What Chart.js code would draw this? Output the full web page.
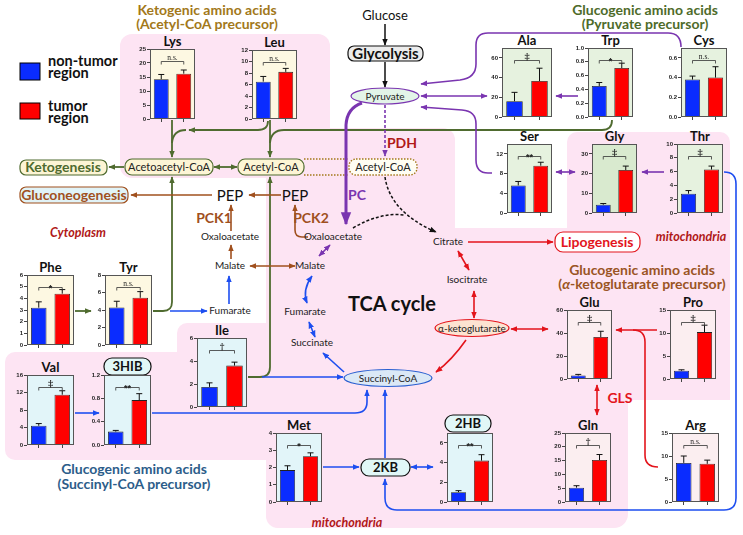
<!DOCTYPE html>
<html>
<head>
<meta charset="utf-8">
<script src="https://cdn.jsdelivr.net/npm/chart.js@4.4.1/dist/chart.umd.min.js"></script>
<style>
  html, body { margin: 0; padding: 0; background: #fff; }
  #stage { position: relative; width: 743px; height: 535px; overflow: hidden; font-family: Lato, "Open Sans", sans-serif; }
  #diagram { position: absolute; left: 0; top: 0; z-index: 0; }
  #stage canvas { position: absolute; z-index: 1; }
  #diagram text { font-family: Lato, "Open Sans", sans-serif; text-anchor: middle; }
  .s10 { font-size: 10px; fill: #222; }
  .s11 { font-size: 11px; fill: #222; }
  .b14 { font-size: 14px; font-weight: 700; }
  .it { font-style: italic; font-weight: 700; font-size: 12.5px; fill: #b01818; }
  .leg { font-size: 14.5px; font-weight: 700; fill: #111; text-anchor: start !important; }
  .ttl { font-size: 13px; font-weight: 700; fill: #111; }
</style>
</head>
<body>
<div id="stage">
<svg id="diagram" width="743" height="535" xmlns="http://www.w3.org/2000/svg">
  <defs>
    <marker id="mG" viewBox="0 0 10 10" refX="9" refY="5" markerWidth="7" markerHeight="7" markerUnits="userSpaceOnUse" orient="auto-start-reverse"><path d="M0,1 L10,5 L0,9 z" fill="#4f6b2f"/></marker>
    <marker id="mN" viewBox="0 0 10 10" refX="9" refY="5" markerWidth="7" markerHeight="7" markerUnits="userSpaceOnUse" orient="auto-start-reverse"><path d="M0,1 L10,5 L0,9 z" fill="#a0501e"/></marker>
    <marker id="mP" viewBox="0 0 10 10" refX="9" refY="5" markerWidth="7" markerHeight="7" markerUnits="userSpaceOnUse" orient="auto-start-reverse"><path d="M0,1 L10,5 L0,9 z" fill="#7a35b0"/></marker>
    <marker id="mPL" viewBox="0 0 10 10" refX="9" refY="5" markerWidth="13" markerHeight="13" markerUnits="userSpaceOnUse" orient="auto-start-reverse"><path d="M0,1 L10,5 L0,9 z" fill="#7a35b0"/></marker>
    <marker id="mB" viewBox="0 0 10 10" refX="9" refY="5" markerWidth="7" markerHeight="7" markerUnits="userSpaceOnUse" orient="auto-start-reverse"><path d="M0,1 L10,5 L0,9 z" fill="#1d4ef0"/></marker>
    <marker id="mR" viewBox="0 0 10 10" refX="9" refY="5" markerWidth="7" markerHeight="7" markerUnits="userSpaceOnUse" orient="auto-start-reverse"><path d="M0,1 L10,5 L0,9 z" fill="#e3141c"/></marker>
    <marker id="mK" viewBox="0 0 10 10" refX="9" refY="5" markerWidth="7" markerHeight="7" markerUnits="userSpaceOnUse" orient="auto-start-reverse"><path d="M0,1 L10,5 L0,9 z" fill="#111"/></marker>
  </defs>

  <!-- compartments -->
  <g fill="#fde4f3">
    <rect x="120" y="34" width="210" height="144" rx="12"/>
    <rect x="266" y="128" width="189" height="400" rx="12"/>
    <rect x="567" y="132" width="163" height="268" rx="10"/>
    <rect x="266" y="228" width="464" height="172"/>
    <rect x="266" y="380" width="362" height="148" rx="14"/>
    <rect x="177" y="323" width="100" height="137" rx="10"/>
    <rect x="5" y="352" width="272" height="108" rx="10"/>
  </g>

  <!-- legend -->
  <rect x="20" y="63" width="20" height="17" fill="#0a2cff" stroke="#000"/>
  <text x="48" y="66" class="leg">non-tumor</text>
  <text x="48" y="78" class="leg">region</text>
  <rect x="20" y="103" width="20" height="16" fill="#ff0000" stroke="#000"/>
  <text x="48" y="111" class="leg">tumor</text>
  <text x="48" y="123" class="leg">region</text>

  <!-- group titles -->
  <text x="207" y="15" class="b14" fill="#a2781a">Ketogenic amino acids</text>
  <text x="207" y="29" class="b14" fill="#a2781a">(Acetyl-CoA precursor)</text>
  <text x="645" y="15" class="b14" fill="#4e6b2a">Glucogenic amino acids</text>
  <text x="645" y="29" class="b14" fill="#4e6b2a">(Pyruvate precursor)</text>
  <text x="642" y="275" class="b14" fill="#9a5424">Glucogenic amino acids</text>
  <text x="642" y="289" class="b14" fill="#9a5424">(<tspan font-style="italic">α</tspan>-ketoglutarate precursor)</text>
  <text x="134" y="474" class="b14" fill="#2c5d8a">Glucogenic amino acids</text>
  <text x="134" y="489" class="b14" fill="#2c5d8a">(Succinyl-CoA precursor)</text>
  <text x="78" y="237" class="it">Cytoplasm</text>
  <text x="691" y="241" class="it">mitochondria</text>
  <text x="347" y="527" class="it">mitochondria</text>

  <!-- green (ketogenic) -->
  <g stroke="#4f6b2f" stroke-width="1.8" fill="none">
    <path d="M172,120 L172,157" marker-end="url(#mG)"/>
    <path d="M270,120 L270,157" marker-end="url(#mG)"/>
    <path d="M268,121 Q268,130 258,130 L189,130" marker-end="url(#mG)"/>
    <path d="M186,130 Q173,130 172,143"/>
    <path d="M612,120 Q612,130 602,130 L284,130 Q271,130 270,143"/>
    <path d="M214,167 L237,167" marker-start="url(#mG)" marker-end="url(#mG)"/>
    <path d="M124,167 L109,167" marker-end="url(#mG)"/>
    <path d="M153,311 L163,311 Q172,311 172,302 L172,177" marker-end="url(#mG)"/>
    <path d="M248,377 L260,377 Q270,377 270,367 L270,177" marker-end="url(#mG)"/>
    <path d="M75,311 L91,311" marker-end="url(#mG)"/>
  </g>

  <!-- boxes top-left -->
  <rect x="20" y="160" width="87" height="15" rx="6" fill="#fdf5d5" stroke="#4f6b2f" stroke-width="1.2"/>
  <text x="63" y="172" class="b14" fill="#4f6b2f">Ketogenesis</text>
  <rect x="125" y="159" width="88" height="16" rx="7" fill="#fdf5d5" stroke="#4f6b2f" stroke-width="1.2"/>
  <text x="169" y="171" class="s11">Acetoacetyl-CoA</text>
  <rect x="238" y="159" width="66" height="16" rx="7" fill="#fdf5d5" stroke="#4f6b2f" stroke-width="1.2"/>
  <text x="271" y="171" class="s11">Acetyl-CoA</text>
  <path d="M304,159 L349,159 M304,175 L349,175" stroke="#a2781a" stroke-width="1.4" stroke-dasharray="1.5,1.5"/>
  <rect x="349" y="159" width="68" height="16" rx="7" fill="#fffdf3" stroke="#a2781a" stroke-width="1.4" stroke-dasharray="1.5,1.5"/>
  <text x="383" y="171" class="s11">Acetyl-CoA</text>
  <rect x="20" y="187" width="108" height="16" rx="6" fill="#e1f3f7" stroke="#a0501e" stroke-width="1.2"/>
  <text x="74" y="199.5" class="b14" fill="#a0501e">Gluconeogenesis</text>

  <!-- glycolysis -->
  <text x="385" y="20" style="font-size:13px" fill="#111">Glucose</text>
  <rect x="348" y="46" width="75" height="15" rx="6" fill="#ececec" stroke="#111" stroke-width="1.2"/>
  <text x="385.5" y="58.5" style="font-size:15px;font-weight:700" fill="#111">Glycolysis</text>
  <g stroke="#111" stroke-width="1.5" fill="none">
    <path d="M385,24 L385,45" marker-end="url(#mK)"/>
    <path d="M385,62 L385,87" marker-end="url(#mK)"/>
    <path d="M385,177 Q390,212 436,232" stroke-dasharray="3,2" marker-end="url(#mK)"/>
    <path d="M353,228 Q380,212 404,215" stroke-dasharray="3,2"/>
  </g>

  <!-- purple (pyruvate) -->
  <g stroke="#7a35b0" stroke-width="1.6" fill="none">
    <path d="M681,47 Q681,33 668,33 L488,33 Q476,33 476,45 L476,64 Q476,78 460,80 L421,84" marker-end="url(#mP)"/>
    <path d="M421,96 L487,96" marker-start="url(#mP)" marker-end="url(#mP)"/>
    <path d="M578,96 L556,96" marker-end="url(#mP)"/>
    <path d="M492,173 L488,173 Q476,173 476,160 L476,124 Q476,111 462,110 L421,107" marker-end="url(#mP)"/>
    <path d="M556,172 L575,172" marker-start="url(#mP)" marker-end="url(#mP)"/>
    <path d="M664,172 L642,172" marker-end="url(#mP)"/>
    <path d="M319,256 L330,245" marker-start="url(#mP)" marker-end="url(#mP)"/>
    <path d="M385,105 L385,156" stroke-dasharray="3,2" marker-end="url(#mP)"/>
    <path d="M362,103 Q347,108 346,125 L346,224" stroke-width="3" marker-end="url(#mPL)"/>
  </g>
  <ellipse cx="385" cy="96" rx="34" ry="8" fill="#e3f4e8" stroke="#7a35b0" stroke-width="1.2"/>
  <text x="385" y="99.5" class="s10">Pyruvate</text>
  <text x="402" y="148" class="b14" fill="#b01818">PDH</text>
  <text x="357" y="200" class="b14" fill="#7a35b0">PC</text>

  <!-- brown (gluconeogenesis) -->
  <g stroke="#a0501e" stroke-width="1.6" fill="none">
    <path d="M212,195 L131,195" marker-end="url(#mN)"/>
    <path d="M281,195 L249,195" marker-end="url(#mN)"/>
    <path d="M231,231 L231,205" marker-end="url(#mN)"/>
    <path d="M231,259 L231,245" marker-end="url(#mN)"/>
    <path d="M250,266 L295,266" marker-start="url(#mN)" marker-end="url(#mN)"/>
    <path d="M308,237 L302,237 Q295,237 295,230 L295,205" marker-end="url(#mN)"/>
  </g>
  <text x="230" y="201" style="font-size:15px" fill="#111">PEP</text>
  <text x="295" y="201" style="font-size:15px" fill="#111">PEP</text>
  <text x="214" y="223" class="b14" fill="#a0501e">PCK1</text>
  <text x="311" y="223" class="b14" fill="#a0501e">PCK2</text>
  <text x="230" y="240" class="s10">Oxaloacetate</text>
  <text x="333" y="240" class="s10">Oxaloacetate</text>
  <text x="230" y="269" class="s10">Malate</text>
  <text x="310" y="269" class="s10">Malate</text>
  <text x="230" y="314" class="s10">Fumarate</text>
  <text x="305" y="315" class="s10">Fumarate</text>
  <text x="312" y="346" class="s10">Succinate</text>
  <text x="392" y="311" style="font-size:20px;font-weight:700" fill="#111">TCA cycle</text>

  <!-- blue (succinyl-CoA) -->
  <g stroke="#1d4ef0" stroke-width="1.6" fill="none">
    <path d="M170,311 L207,311" marker-end="url(#mB)"/>
    <path d="M229,304 L229,276" marker-end="url(#mB)"/>
    <path d="M312,276 Q302,290 307,303" marker-start="url(#mB)" marker-end="url(#mB)"/>
    <path d="M309,322 L315,337" marker-start="url(#mB)" marker-end="url(#mB)"/>
    <path d="M344,372 L323,353" marker-end="url(#mB)"/>
    <path d="M262,377 L343,377" marker-end="url(#mB)"/>
    <path d="M152,413 L355,413 Q367,413 367,402 L367,390" marker-end="url(#mB)"/>
    <path d="M75,413 L99,413" marker-end="url(#mB)"/>
    <path d="M323,467 L359,467" marker-end="url(#mB)"/>
    <path d="M411,467 L433,467" marker-start="url(#mB)" marker-end="url(#mB)"/>
    <path d="M385,458 L385,390" marker-end="url(#mB)"/>
    <path d="M724,172 Q736,172 736,184 L736,498 Q736,510 724,510 L397,510 Q385,510 385,498 L385,479" marker-end="url(#mB)"/>
  </g>
  <ellipse cx="388" cy="378" rx="44" ry="8.5" fill="#dbe8f6" stroke="#2a5fd0" stroke-width="1.2"/>
  <text x="388" y="381.5" class="s10">Succinyl-CoA</text>

  <!-- red (alpha-KG) -->
  <g stroke="#e3141c" stroke-width="1.6" fill="none">
    <path d="M468,242 L553,242" marker-end="url(#mR)"/>
    <path d="M458,251 L469,270" marker-start="url(#mR)" marker-end="url(#mR)"/>
    <path d="M474,291 L474,318" marker-start="url(#mR)" marker-end="url(#mR)"/>
    <path d="M466,340 Q452,360 436,372" marker-end="url(#mR)"/>
    <path d="M511,329 L548,329" marker-start="url(#mR)" marker-end="url(#mR)"/>
    <path d="M657,330 L616,330" marker-end="url(#mR)"/>
    <path d="M658,467 Q645,467 645,455 L645,342 Q645,330 633,330"/>
    <path d="M597,385 L597,415" marker-start="url(#mR)" marker-end="url(#mR)"/>
  </g>
  <text x="448" y="245" class="s10">Citrate</text>
  <text x="467" y="283" class="s10">Isocitrate</text>
  <ellipse cx="472" cy="328" rx="37" ry="8.5" fill="#fde3d1" stroke="#e3141c" stroke-width="1.2"/>
  <text x="472" y="331.5" class="s10">α-ketoglutarate</text>
  <rect x="555" y="232" width="85" height="20" rx="8" fill="#fff" stroke="#e3141c" stroke-width="1.2"/>
  <text x="597" y="247" class="b14" fill="#e3141c">Lipogenesis</text>
  <text x="620" y="403" class="b14" fill="#e3141c">GLS</text>

  <!-- metabolite pills -->
  <rect x="104" y="358" width="47" height="17" rx="8" fill="#e1f7f7" stroke="#111" stroke-width="1.2"/>
  <text x="127.5" y="371" class="ttl">3HIB</text>
  <rect x="445" y="415" width="46" height="17" rx="8" fill="#e1f7f7" stroke="#111" stroke-width="1.2"/>
  <text x="468" y="428" class="ttl">2HB</text>
  <rect x="361" y="459" width="49" height="17" rx="8" fill="#e1f7f7" stroke="#111" stroke-width="1.2"/>
  <text x="385.5" y="472" class="ttl">2KB</text>
</svg>
</div>

<script>
/* ================= DATA ================= */
const aminoAcids  = ["Lys", "Leu", "Ala", "Trp", "Cys", "Ser", "Gly", "Thr", "Phe", "Tyr", "Val", "3HIB", "Ile", "Met", "2HB", "Glu", "Pro", "Gln", "Arg"];
const nonTumor    = [14.2, 6.5, 16, 0.45, 0.38, 5.6, 4.2, 2.8, 3.2, 4.3, 4.4, 0.23, 1.75, 1.85, 1.0, 3, 1.8, 5.2, 8.5];
const nonTumorErr = [1.7, 0.9, 9, 0.05, 0.035, 0.8, 0.6, 0.45, 0.5, 0.7, 0.5, 0.02, 0.35, 0.25, 0.15, 1, 0.2, 0.7, 1.5];
const tumor       = [16.2, 8.2, 36.5, 0.71, 0.40, 9.6, 21.8, 6.3, 4.4, 5.4, 11.5, 0.77, 3.6, 2.65, 4.2, 36.5, 10.2, 15.2, 8.3];
const tumorErr    = [1.3, 0.6, 13, 0.07, 0.11, 0.7, 2.0, 0.5, 0.35, 0.7, 0.9, 0.11, 0.3, 0.2, 0.6, 5, 1.5, 2.0, 0.8];
const significance = ["n.s.", "n.s.", "‡", "*", "n.s.", "**", "‡", "‡", "*", "n.s.", "‡", "**", "†", "*", "**", "‡", "‡", "†", "n.s."];
const axisMax  = [25, 12, 70, 1.0, 0.7, 14, 35, 10, 6, 8, 16, 1.2, 6, 4, 7, 60, 15, 25, 15];
const axisStep = [5, 2, 10, 0.2, 0.1, 2, 5, 2, 1, 2, 4, 0.4, 2, 1, 1, 20, 5, 5, 5];

/* ================= LAYOUT ================= */
// plot box: left, top, width, height, background, draw title?
const panelBoxes = {
  Lys: [150, 49, 45, 70, "cream", true],
  Leu: [252, 50, 45, 69, "cream", true],
  Ala: [502, 48, 50, 69, "green", true],
  Trp: [588, 48, 45, 69, "green", true],
  Cys: [681, 48, 46, 69, "green", true],
  Ser: [507, 144, 45, 69, "green", true],
  Gly: [592, 144, 45, 69, "greenDark", true],
  Thr: [677, 144, 46, 69, "green", true],
  Phe: [27, 275, 47, 70, "cream", true],
  Tyr: [105, 275, 47, 70, "cream", true],
  Val: [27, 375, 47, 70, "cyan", true],
  "3HIB": [104, 375, 47, 70, "cyan", false],
  Ile: [197, 338, 50, 69, "cyan", true],
  Met: [276, 433, 46, 69, "cyan", true],
  "2HB": [447, 433, 46, 69, "cyan", false],
  Glu: [567, 310, 45, 69, "pink", true],
  Pro: [670, 310, 46, 69, "pink", true],
  Gln: [565, 433, 46, 69, "pink", true],
  Arg: [672, 433, 47, 69, "pink", true]
};
const panelColors = { cream: "#fdf8e2", green: "#e6f2df", greenDark: "#d9eacf", cyan: "#e2f5f9", pink: "#fbeef0" };

/* ================= PANEL PLUGIN ================= */
const panelPlugin = {
  id: "panel",
  beforeDatasetsDraw(chart, args, opts) {
    const a = chart.chartArea, ctx = chart.ctx;
    ctx.save();
    ctx.fillStyle = opts.bg;
    ctx.fillRect(a.left, a.top, a.right - a.left, a.bottom - a.top);
    ctx.restore();
  },
  afterDatasetsDraw(chart, args, opts) {
    const a = chart.chartArea, ctx = chart.ctx;
    const y = chart.scales.y;
    const bars = chart.getDatasetMeta(0).data;
    ctx.save();
    // error bars
    ctx.strokeStyle = "#111";
    ctx.lineWidth = 1;
    bars.forEach((b, j) => {
      const top = y.getPixelForValue(opts.values[j] + opts.errors[j]);
      ctx.beginPath();
      ctx.moveTo(b.x, b.y);
      ctx.lineTo(b.x, top);
      ctx.moveTo(b.x - 3, top);
      ctx.lineTo(b.x + 3, top);
      ctx.stroke();
    });
    // frame
    ctx.strokeStyle = "#555";
    ctx.strokeRect(a.left + 0.5, a.top + 0.5, a.right - a.left - 1, a.bottom - a.top - 1);
    // significance bracket
    const yb = Math.round(a.top + (a.bottom - a.top) * 0.17) + 0.5;
    const x1 = bars[0].x, x2 = bars[1].x;
    ctx.strokeStyle = "#333";
    ctx.lineWidth = 0.8;
    ctx.beginPath();
    ctx.moveTo(x1, yb + 3); ctx.lineTo(x1, yb); ctx.lineTo(x2, yb); ctx.lineTo(x2, yb + 3);
    ctx.stroke();
    ctx.fillStyle = "#222";
    ctx.textAlign = "center";
    ctx.textBaseline = "alphabetic";
    const xm = (x1 + x2) / 2;
    const s = opts.sig;
    if (s === "n.s.") {
      ctx.font = "7.5px 'Liberation Serif', serif";
      ctx.fillText(s, xm, yb - 2);
    } else if (s === "‡") {
      ctx.font = "bold 10px 'DejaVu Serif', serif";
      ctx.fillText("‡", xm, yb - 1);
    } else if (s === "†") {
      ctx.font = "bold 9px 'DejaVu Serif', serif";
      ctx.fillText("†", xm, yb - 1);
    } else {
      ctx.font = "bold 9px 'Liberation Sans', sans-serif";
      ctx.fillText(s, xm, yb + 3);
    }
    ctx.restore();
  }
};

/* ================= PANELS ================= */
function makePanel(i) {
  const name = aminoAcids[i];
  const [left, top, w, h, bgKey, showTitle] = panelBoxes[name];
  const YW = 18, PT = 6, XB = 5, PR = 2;
  const cv = document.createElement("canvas");
  cv.width = YW + w + PR;
  cv.height = PT + h + XB;
  cv.style.left = (left - YW) + "px";
  cv.style.top = (top - PT) + "px";
  document.getElementById("stage").appendChild(cv);

  const decimals = axisStep[i] < 1 ? 1 : 0;

  new Chart(cv, {
    type: "bar",
    data: {
      labels: ["non-tumor", "tumor"],
      datasets: [{
        data: [nonTumor[i], tumor[i]],
        backgroundColor: ["#0a2cff", "#ff0000"],
        borderColor: "#222",
        borderWidth: 0.8,
        barPercentage: 0.66,
        categoryPercentage: 1
      }]
    },
    options: {
      responsive: false,
      animation: false,
      devicePixelRatio: 1,
      layout: { padding: { top: PT, right: PR, left: 0, bottom: 0 } },
      plugins: {
        legend: { display: false },
        tooltip: { enabled: false },
        panel: { bg: panelColors[bgKey], values: [nonTumor[i], tumor[i]], errors: [nonTumorErr[i], tumorErr[i]], sig: significance[i] }
      },
      scales: {
        x: {
          grid: { display: true, drawOnChartArea: false, offset: false, tickLength: 3, color: "#444" },
          border: { display: false },
          ticks: { display: false },
          afterFit(s) { s.height = XB; }
        },
        y: {
          min: 0,
          max: axisMax[i],
          ticks: {
            stepSize: axisStep[i],
            font: { size: 6, weight: "bold", family: "'Liberation Sans', Arial, sans-serif" },
            color: "#222",
            padding: 1,
            callback: v => Number(v).toFixed(decimals)
          },
          grid: { drawOnChartArea: false, tickLength: 3, color: "#444" },
          border: { display: false },
          afterFit(s) { s.width = YW; }
        }
      }
    },
    plugins: [panelPlugin]
  });

  if (showTitle) {
    const svg = document.getElementById("diagram");
    const t = document.createElementNS("http://www.w3.org/2000/svg", "text");
    t.setAttribute("x", left + w / 2);
    t.setAttribute("y", top - 3);
    t.setAttribute("class", "ttl");
    t.textContent = name;
    svg.appendChild(t);
  }
}

/* ================= INIT ================= */
document.addEventListener("DOMContentLoaded", () => {
  aminoAcids.forEach((_, i) => makePanel(i));
});
</script>
</body>
</html>
